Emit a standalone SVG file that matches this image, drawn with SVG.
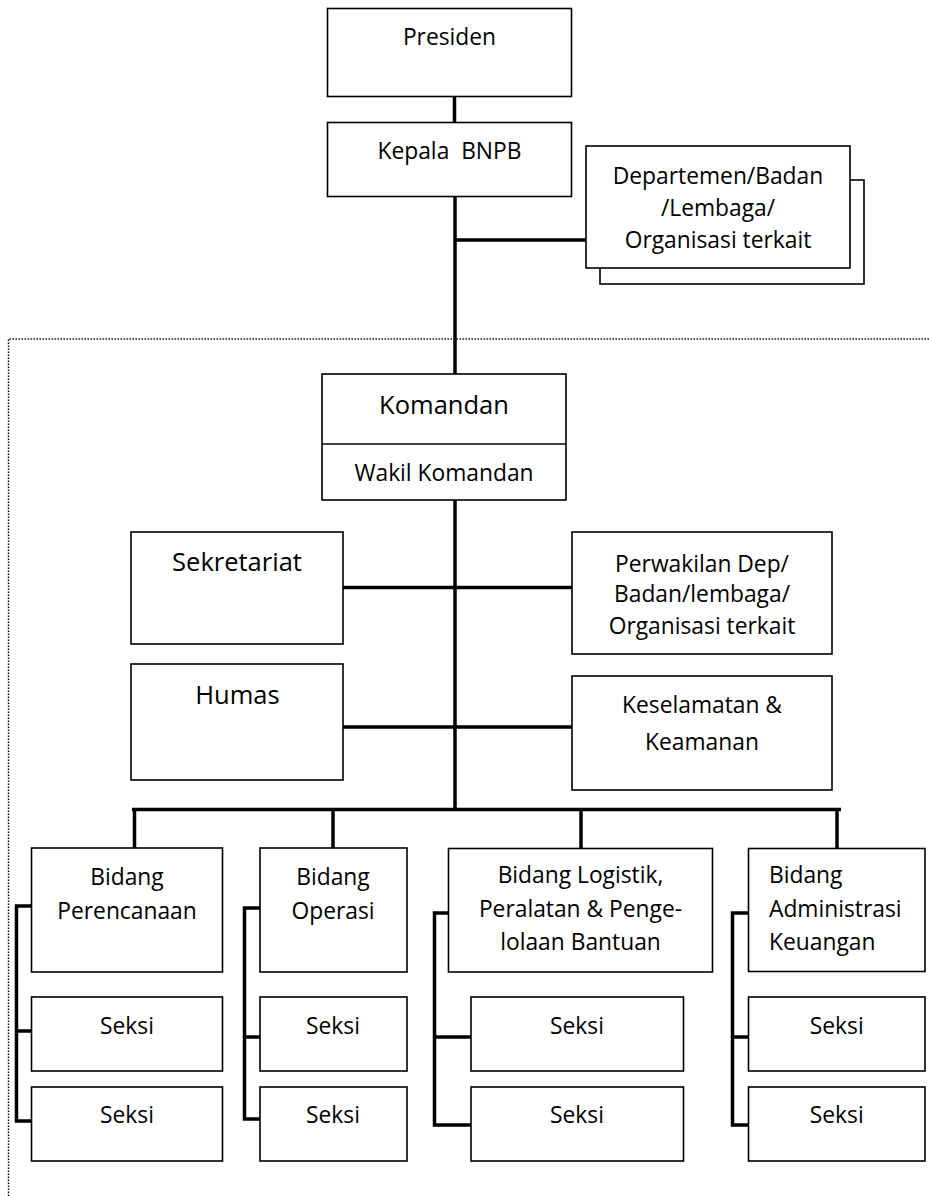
<svg xmlns="http://www.w3.org/2000/svg" width="929" height="1196" viewBox="0 0 929 1196">
<style>
.box{fill:#fff;stroke:#000;stroke-width:1.6}
.t{font-family:"Open Sans","Noto Sans","Liberation Sans",sans-serif;font-size:22.8px;fill:#000;text-anchor:middle}
.tl{text-anchor:start}
.big{font-size:25.5px}
.c{fill:none;stroke:#000;stroke-width:3.5;stroke-linecap:butt}
.dot{fill:none;stroke:#000;stroke-width:1.4;stroke-dasharray:1.4 1.6}
</style>
<rect width="929" height="1196" fill="#fff"/>
<g id="boundary">
<path class="dot" d="M8.5 1196 V339 H929"/>
</g>
<g id="connectors">
<path class="c" d="M454.5 97 V122"/>
<path class="c" d="M455 197 V374"/>
<path class="c" d="M455 240 H586"/>
<path class="c" d="M455 500 V809"/>
<path class="c" d="M341 587.5 H572"/>
<path class="c" d="M341 727 H572"/>
<path class="c" d="M132 809.5 H841"/>
<path class="c" d="M134.5 809 V848"/>
<path class="c" d="M333 809 V848"/>
<path class="c" d="M581 809 V848"/>
<path class="c" d="M837 809 V848"/>
<path class="c" d="M32 906 H16.5 V1121 H32 M16.5 1031 H32"/>
<path class="c" d="M260 908 H244.5 V1119 H260 M244.5 1037 H260"/>
<path class="c" d="M449 913 H434.5 V1125 H474 M434.5 1037 H474"/>
<path class="c" d="M749 913 H732.5 V1125 H749 M732.5 1037 H749"/>
</g>
<g id="presiden">
<rect class="box" x="327.5" y="8.5" width="244" height="88"/>
<text class="t" x="449.5" y="45">Presiden</text>
</g>
<g id="kepala">
<rect class="box" x="327.5" y="122.5" width="244" height="74"/>
<text class="t" x="449.5" y="158.5">Kepala&#160; BNPB</text>
</g>
<g id="departemen">
<rect class="box" x="600" y="180" width="264" height="104"/>
<rect class="box" x="586" y="146" width="264" height="122"/>
<text class="t" x="718" y="183.5">Departemen/Badan</text>
<text class="t" x="718" y="215.5">/Lembaga/</text>
<text class="t" x="718" y="247.5">Organisasi terkait</text>
</g>
<g id="komandan">
<rect class="box" x="322" y="374" width="244" height="126"/>
<line x1="322" y1="444" x2="566" y2="444" stroke="#000" stroke-width="1.6"/>
<text class="t big" x="444" y="413.5">Komandan</text>
<text class="t" x="444" y="480.7">Wakil Komandan</text>
</g>
<g id="sekretariat">
<rect class="box" x="131" y="532" width="212" height="112"/>
<text class="t big" x="237" y="571">Sekretariat</text>
</g>
<g id="perwakilan">
<rect class="box" x="572" y="532" width="260" height="122"/>
<text class="t" x="702" y="571.5">Perwakilan Dep/</text>
<text class="t" x="702" y="602">Badan/lembaga/</text>
<text class="t" x="702" y="633.5">Organisasi terkait</text>
</g>
<g id="humas">
<rect class="box" x="131" y="664" width="212" height="116"/>
<text class="t big" x="237.5" y="703.5">Humas</text>
</g>
<g id="keselamatan">
<rect class="box" x="572" y="676" width="260" height="114"/>
<text class="t" x="702" y="712.7">Keselamatan &amp;</text>
<text class="t" x="702" y="750">Keamanan</text>
</g>
<g id="bidang-perencanaan">
<rect class="box" x="31.5" y="848" width="191" height="124"/>
<text class="t" x="127" y="884.5">Bidang</text>
<text class="t" x="127" y="919">Perencanaan</text>
</g>
<g id="bidang-operasi">
<rect class="box" x="260" y="848" width="147" height="124"/>
<text class="t" x="333" y="884.5">Bidang</text>
<text class="t" x="333" y="919">Operasi</text>
</g>
<g id="bidang-logistik">
<rect class="box" x="448.5" y="848.5" width="264" height="123.5"/>
<text class="t" x="580.5" y="883.3">Bidang Logistik,</text>
<text class="t" x="580.5" y="916.7">Peralatan &amp; Penge-</text>
<text class="t" x="580.5" y="950">lolaan Bantuan</text>
</g>
<g id="bidang-administrasi">
<rect class="box" x="748.5" y="848.5" width="176.5" height="123"/>
<text class="t tl" x="769" y="883.3">Bidang</text>
<text class="t tl" x="769" y="916.7">Administrasi</text>
<text class="t tl" x="769" y="950">Keuangan</text>
</g>
<g id="seksi-perencanaan-1">
<rect class="box" x="31.5" y="997" width="191" height="74"/>
<text class="t" x="127" y="1034">Seksi</text>
</g>
<g id="seksi-perencanaan-2">
<rect class="box" x="31.5" y="1087" width="191" height="74"/>
<text class="t" x="127" y="1123.3">Seksi</text>
</g>
<g id="seksi-operasi-1">
<rect class="box" x="260" y="997" width="147" height="74"/>
<text class="t" x="333" y="1034">Seksi</text>
</g>
<g id="seksi-operasi-2">
<rect class="box" x="260" y="1087" width="147" height="74"/>
<text class="t" x="333" y="1123.3">Seksi</text>
</g>
<g id="seksi-logistik-1">
<rect class="box" x="471" y="997" width="212.5" height="74"/>
<text class="t" x="577" y="1034">Seksi</text>
</g>
<g id="seksi-logistik-2">
<rect class="box" x="471" y="1087" width="212.5" height="74"/>
<text class="t" x="577" y="1123.3">Seksi</text>
</g>
<g id="seksi-administrasi-1">
<rect class="box" x="748.5" y="997" width="176.5" height="74"/>
<text class="t" x="836.7" y="1034">Seksi</text>
</g>
<g id="seksi-administrasi-2">
<rect class="box" x="748.5" y="1087" width="176.5" height="74"/>
<text class="t" x="836.7" y="1123.3">Seksi</text>
</g>
</svg>
